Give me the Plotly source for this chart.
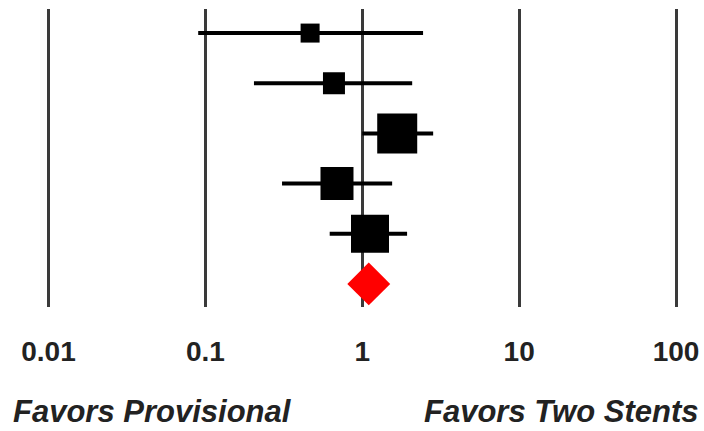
import plotly.graph_objects as go

# Data (odds ratios)
studies = ["Study 1", "Study 2", "Study 3", "Study 4", "Study 5"]
estimates = [0.465, 0.66, 1.67, 0.69, 1.12]
ci_low = [0.090, 0.204, 1.00, 0.308, 0.62]
ci_high = [2.44, 2.08, 2.83, 1.55, 1.93]
weights = [19, 22, 40, 33, 38]          # relative study weights (box size)
pooled_label = "Pooled"
pooled_est = 1.10
tick_vals = [0.01, 0.1, 1, 10, 100]
tick_text = ["0.01", "0.1", "1", "10", "100"]

ypos = list(range(len(studies)))
err_plus = [h - e for h, e in zip(ci_high, estimates)]
err_minus = [e - l for e, l in zip(estimates, ci_low)]

fig = go.Figure()
fig.add_trace(go.Scatter(
    x=estimates, y=ypos, mode="markers",
    marker=dict(symbol="square", size=weights, color="black", opacity=1, line=dict(width=0)),
    error_x=dict(type="data", array=err_plus, arrayminus=err_minus,
                 symmetric=False, color="black", thickness=4, width=0),
    showlegend=False, hoverinfo="x",
))
fig.add_trace(go.Scatter(
    x=[pooled_est], y=[len(studies)], mode="markers",
    marker=dict(symbol="diamond", size=33, color="#ff0000", opacity=1, line=dict(width=0)),
    showlegend=False, name=pooled_label,
))

font_fam = "Liberation Sans, Arial, Helvetica, sans-serif"
fig.update_layout(
    width=704, height=431,
    margin=dict(l=0, r=0, t=9, b=124),
    paper_bgcolor="white", plot_bgcolor="white",
    xaxis=dict(type="log", range=[-2.309, 2.178],
               tickvals=tick_vals, ticktext=tick_text,
               showgrid=True, gridcolor="#3a3a3a", gridwidth=3,
               zeroline=False, showline=False, ticks="",
               tickfont=dict(family=font_fam, size=28, color="#222222", weight="bold"),
               ticklabelstandoff=25),
    yaxis=dict(range=[5.46, -0.48], visible=False, showgrid=False, zeroline=False),
    annotations=[
        dict(text="Favors Provisional", xref="paper", yref="paper",
             x=11/704, y=-0.352, xanchor="left", yanchor="middle", showarrow=False,
             font=dict(family=font_fam, size=31, color="#222222", weight="bold", style="italic")),
        dict(text="Favors Two Stents", xref="paper", yref="paper",
             x=700/704, y=-0.352, xanchor="right", yanchor="middle", showarrow=False,
             font=dict(family=font_fam, size=31, color="#222222", weight="bold", style="italic")),
    ],
)

fig.write_html("out.html", config={"displayModeBar": False},
               post_script="document.body.style.margin='0';document.body.style.padding='0';")
